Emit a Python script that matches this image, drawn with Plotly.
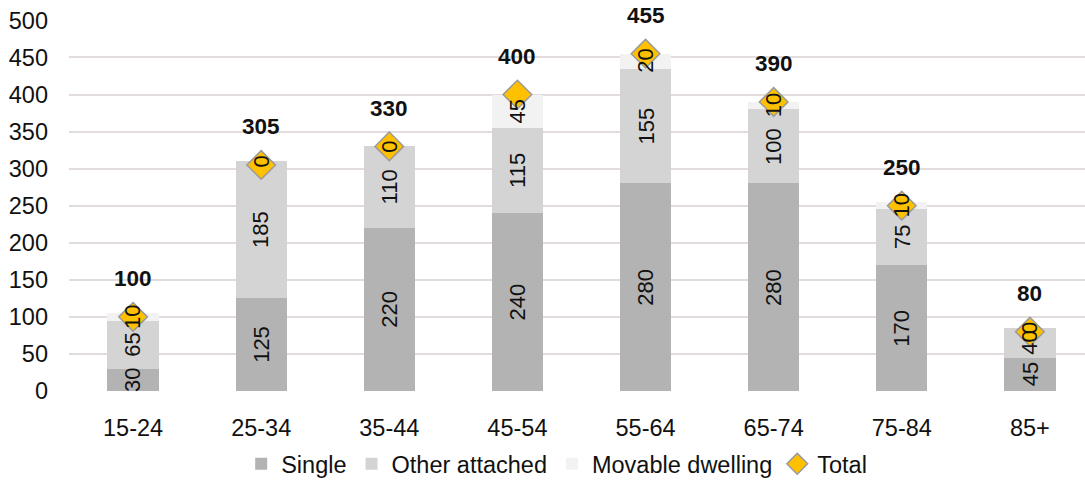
import plotly.graph_objects as go

# Age groups and dwelling counts by type
age_groups = ["15-24", "25-34", "35-44", "45-54", "55-64", "65-74", "75-84", "85+"]
single = [30, 125, 220, 240, 280, 280, 170, 45]
other_attached = [65, 185, 110, 115, 155, 100, 75, 40]
movable_dwelling = [10, 0, 0, 45, 20, 10, 10, 0]
total = [100, 305, 330, 400, 455, 390, 250, 80]
y_ticks = [0, 50, 100, 150, 200, 250, 300, 350, 400, 450, 500]

FONT = "Liberation Sans, Arial, sans-serif"
TEXT = "#111111"

series = [
    ("Single", single, "#b3b3b3"),
    ("Other attached", other_attached, "#d4d4d4"),
    ("Movable dwelling", movable_dwelling, "#f2f2f2"),
]

fig = go.Figure()
for name, vals, color in series:
    fig.add_trace(go.Bar(
        x=age_groups, y=vals, name=name,
        marker=dict(color=color, line=dict(width=0)),
        width=0.4,
        hoverinfo="x+y+name",
    ))

fig.add_trace(go.Scatter(
    x=age_groups, y=total, name="Total", mode="markers",
    marker=dict(symbol="diamond", size=22, color="#ffc000",
                line=dict(color="#9a9a9a", width=1.5)),
))

annotations = []
# Segment value labels, rotated, centred in each stacked segment
base = [0] * len(age_groups)
for name, vals, color in series:
    for i, v in enumerate(vals):
        annotations.append(dict(
            x=age_groups[i], y=base[i] + v / 2, text=str(v),
            showarrow=False, textangle=-90,
            font=dict(family=FONT, size=22, color=TEXT),
        ))
        base[i] += v

# Bold total labels above the diamonds
for i, t in enumerate(total):
    annotations.append(dict(
        x=age_groups[i], y=t, text=f"<b>{t}</b>",
        showarrow=False, yshift=38,
        font=dict(family=FONT, size=22.5, color=TEXT),
    ))

fig.update_layout(
    width=1085, height=486,
    margin=dict(l=69, r=0, t=20, b=95),
    barmode="stack",
    bargap=0.6,
    plot_bgcolor="white", paper_bgcolor="white",
    font=dict(family=FONT, size=23.5, color=TEXT),
    showlegend=True,
    legend=dict(
        orientation="h", x=0.48, xanchor="center", y=-0.197, yanchor="middle",
        font=dict(family=FONT, size=23.5, color=TEXT),
        itemclick=False, tracegroupgap=0, traceorder="normal",
    ),
    xaxis=dict(
        range=[-0.5, 7.43], showgrid=False, showline=False, zeroline=False,
        ticks="", tickfont=dict(size=23.5), ticklabelstandoff=20,
    ),
    yaxis=dict(
        range=[0, 500.5], tickvals=y_ticks, showgrid=True,
        gridcolor="#e2dcdc", gridwidth=1.5, zeroline=False, showline=False,
        ticks="", tickfont=dict(size=23.5), ticklabelstandoff=20,
    ),
    annotations=annotations,
)

fig.write_html("out.html")
